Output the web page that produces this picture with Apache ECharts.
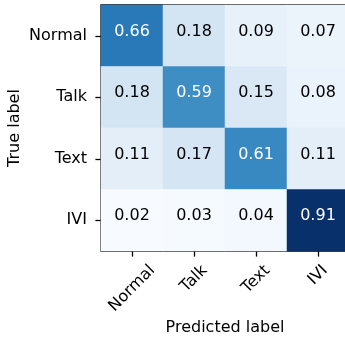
<!DOCTYPE html>
<html>
<head>
<meta charset="utf-8">
<script src="https://cdn.jsdelivr.net/npm/echarts@6/dist/echarts.min.js"></script>
<style>html,body{margin:0;padding:0;background:#fff;}#c{width:345px;height:343px;}</style>
</head>
<body>
<div id="c"></div>
<script>
const categories = ['Normal', 'Talk', 'Text', 'IVI'];
const rowNormal = [0.66, 0.18, 0.09, 0.07];
const rowTalk = [0.18, 0.59, 0.15, 0.08];
const rowText = [0.11, 0.17, 0.61, 0.11];
const rowIVI = [0.02, 0.03, 0.04, 0.91];
const xTitle = 'Predicted label';
const yTitle = 'True label';

const rows = [rowNormal, rowTalk, rowText, rowIVI];
const blues = ['#f7fbff','#deebf7','#c6dbef','#9ecae1','#6baed6','#4292c6','#2171b5','#08519c','#08306b'];
const allVals = rows.flat();
const vmin = Math.min(...allVals), vmax = Math.max(...allVals);
const FONT = '"DejaVu Sans", sans-serif';
const FS = 16;

const data = [];
rows.forEach((r, yi) => r.forEach((v, xi) => {
  data.push({value: [xi, yi, v], label: {color: v > (vmin + vmax) / 2 ? '#fff' : '#000'}});
}));

// measure text so that rotated labels are centered under ticks (matplotlib ha=center)
const ctx = document.createElement('canvas').getContext('2d');
ctx.font = FS + 'px ' + FONT;
const H = 17;
const rich = {};
categories.forEach(c => {
  const w = ctx.measureText(c).width;
  const P = (w + H) / 2;
  rich[c] = {padding: [P, P, 0, 0], fontSize: FS, fontFamily: FONT, color: '#000'};
});

const chart = echarts.init(document.getElementById('c'), null, {renderer: 'canvas'});
chart.setOption({
  animation: false,
  backgroundColor: '#fff',
  textStyle: {fontFamily: FONT},
  grid: {left: 101, top: 5, right: -4, bottom: 92, show: true, borderColor: '#000', borderWidth: 1.3, backgroundColor: 'transparent', outerBoundsMode: 'none', containLabel: false},
  visualMap: {show: false, type: 'continuous', min: vmin, max: vmax, dimension: 2, inRange: {color: blues}},
  xAxis: {
    type: 'category', data: categories,
    name: xTitle, nameLocation: 'middle', nameGap: 69, nameMoveOverlap: false,
    nameTextStyle: {fontSize: FS, color: '#000', fontFamily: FONT},
    axisLine: {show: false},
    axisTick: {show: true, alignWithLabel: true, length: 5.6, lineStyle: {color: '#000', width: 1.3}},
    axisLabel: {
      rotate: 45, align: 'center', verticalAlign: 'middle', margin: 11,
      fontSize: FS, color: '#000', fontFamily: FONT,
      formatter: v => '{' + v + '|' + v + '}', rich: rich
    },
    splitLine: {show: false}, splitArea: {show: false}
  },
  yAxis: {
    type: 'category', data: categories, inverse: true,
    name: yTitle, nameLocation: 'middle', nameGap: 78, nameMoveOverlap: false,
    nameTextStyle: {fontSize: FS, color: '#000', fontFamily: FONT},
    axisLine: {show: false},
    axisTick: {show: true, alignWithLabel: true, length: 5.6, lineStyle: {color: '#000', width: 1.3}},
    axisLabel: {fontSize: FS, color: '#000', fontFamily: FONT, margin: 14, padding: [3, 0, 0, 0]},
    splitLine: {show: false}, splitArea: {show: false}
  },
  series: [{
    type: 'heatmap', data: data,
    itemStyle: {borderWidth: 0},
    label: {show: true, fontSize: FS, fontFamily: FONT, offset: [0, -4], formatter: p => p.value[2].toFixed(2)},
    emphasis: {disabled: true}
  }]
});
</script>
</body>
</html>
